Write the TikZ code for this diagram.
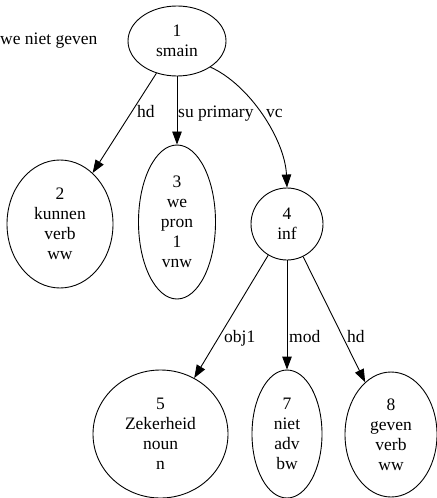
\documentclass[tikz,border=0pt]{standalone}
\usepackage{fontspec}
\setmainfont{Liberation Serif}
\usetikzlibrary{shapes.geometric,arrows.meta}
\begin{document}
\begin{tikzpicture}[x=1bp,y=-1bp,
  every node/.style={font=\fontsize{17.5bp}{20bp}\selectfont},
  tnode/.style={ellipse,draw,line width=0.9bp,inner sep=0pt,align=center},
  elabel/.style={anchor=base west,inner sep=0pt},
  edge/.style={line width=0.9bp,-{Triangle[length=13bp,width=9.5bp]}}]
\useasboundingbox (0,0) rectangle (437,498);
\node[anchor=base west,inner sep=0pt] (sent) at (0,45) {we niet geven};
\node[tnode,minimum width=98bp,minimum height=70bp] (n1) at (177,41) {1\\smain};
\node[tnode,minimum width=106bp,minimum height=128bp] (n2) at (60,224) {2\\kunnen\\verb\\ww};
\node[tnode,minimum width=77bp,minimum height=154bp] (n3) at (177,222) {3\\we\\pron\\1\\vnw};
\node[tnode,minimum width=72bp,minimum height=72bp] (n4) at (287,224) {4\\inf};
\node[tnode,minimum width=135bp,minimum height=128bp] (n5) at (160.5,434) {5\\Zekerheid\\noun\\n};
\node[tnode,minimum width=70bp,minimum height=128bp] (n7) at (287,434) {7\\niet\\adv\\bw};
\node[tnode,minimum width=92bp,minimum height=125bp] (n8) at (391,434.5) {8\\geven\\verb\\ww};
\draw[edge] (n1) -- (n2);
\draw[edge] (n1) -- (n3);
\draw[edge] (n1.-38) .. controls (250,85) and (285,140) .. (n4.north);
\draw[edge] (n4) -- (n5);
\draw[edge] (n4) -- (n7);
\draw[edge] (n4) -- (n8);
\node[elabel] (l12) at (137,118) {hd};
\node[elabel] (l13) at (178,118) {su primary};
\node[elabel] (l14) at (266,118) {vc};
\node[elabel] (l45) at (224,342) {obj1};
\node[elabel] (l47) at (289,342) {mod};
\node[elabel] (l48) at (347,342) {hd};
\end{tikzpicture}
\end{document}
